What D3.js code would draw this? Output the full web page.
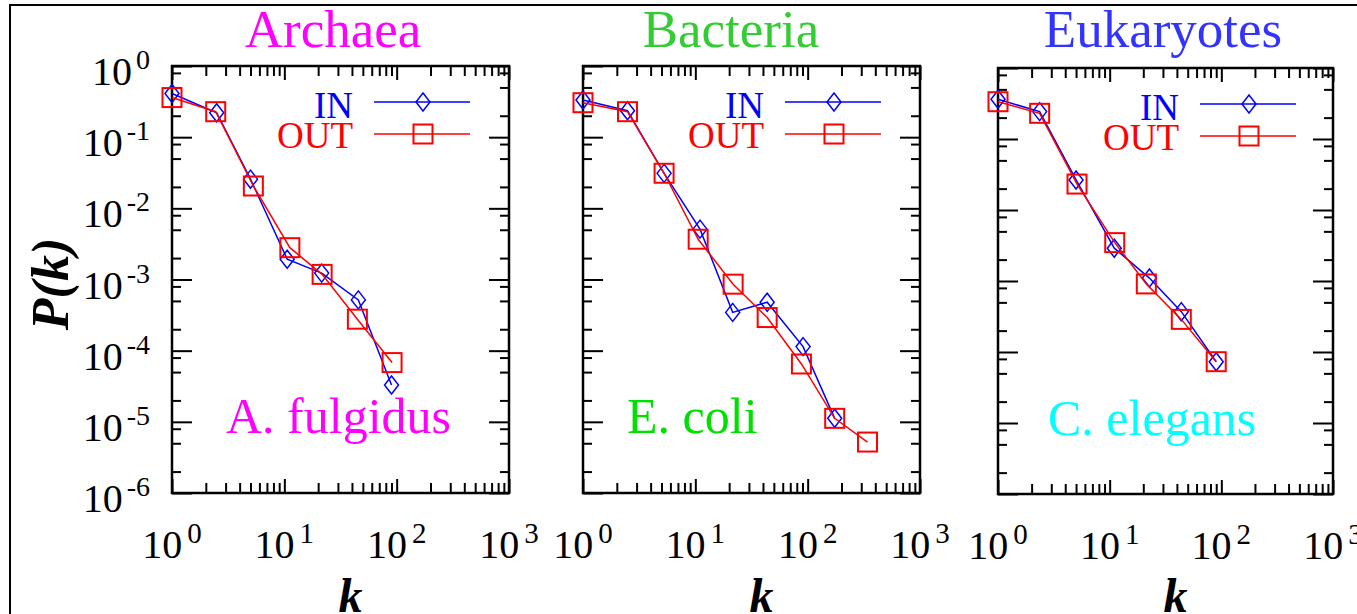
<!DOCTYPE html>
<html>
<head>
<meta charset="utf-8">
<script src="https://cdn.jsdelivr.net/npm/d3@7"></script>
<style>
  body { margin: 0; background: #fff; }
  svg { display: block; }
  text { font-family: "Liberation Serif", "Times New Roman", serif; }
</style>
</head>
<body>
<svg id="chart" width="1357" height="614"></svg>
<script>
"use strict";

// panel titles and organism names
const titles  = ['Archaea', 'Bacteria', 'Eukaryotes'];
const species = ['A. fulgidus', 'E. coli', 'C. elegans'];

// degree distributions, [k, P(k)]
const inArchaea   = [[1, 0.41], [2.5, 0.22], [5.0, 0.0257], [10.6, 0.00193], [21.5, 0.00123], [45.6, 0.000517], [90, 3.3e-5]];
const outArchaea  = [[1, 0.36], [2.45, 0.228], [5.3, 0.0206], [11.2, 0.0028], [21.7, 0.00118], [44.7, 0.000277], [91, 6.8e-5]];
const inBacteria  = [[1, 0.333], [2.49, 0.235], [5.27, 0.031], [11, 0.0051], [21.5, 0.000345], [43.6, 0.00048], [91, 0.000114], [174, 1.12e-5]];
const outBacteria = [[1, 0.305], [2.49, 0.228], [5.27, 0.0311], [10.6, 0.00368], [21.7, 0.00086], [43.6, 0.000292], [88, 6.5e-5], [174, 1.12e-5], [341, 5.2e-6]];
const inEuk       = [[1, 0.363], [2.36, 0.243], [5.0, 0.0265], [11, 0.0029], [22.7, 0.0011], [43.8, 0.00037], [90, 7.3e-5]];
const outEuk      = [[1, 0.335], [2.36, 0.23], [5.1, 0.0232], [11.1, 0.00347], [21.3, 0.00091], [43.8, 0.000288], [90, 7.3e-5]];

// tick labels (exponents of 10)
const xTickExp = [0, 1, 2, 3];
const yTickExp = [0, -1, -2, -3, -4, -5, -6];
const legendLabels = ['IN', 'OUT'];

// layout of the three panels
const boxes = [
  { left: 172, right: 509, top: 66, bottom: 493 },
  { left: 583, right: 920, top: 66, bottom: 493 },
  { left: 998, right: 1333, top: 68, bottom: 494 }
];
const titleX      = [333, 731, 1163];
const titleColor  = ['#ff00ff', '#33cc33', '#3333ff'];
const speciesDx   = [54, 44, 50];
const speciesColor = ['#ff00ff', '#00e000', '#00ffff'];
const inSeries  = [inArchaea, inBacteria, inEuk];
const outSeries = [outArchaea, outBacteria, outEuk];

const IN_COLOR = '#0000ff', OUT_COLOR = '#ff0000';

const svg = d3.select('#chart');

// outer frame
svg.append('rect')
    .attr('x', 10).attr('y', 5)
    .attr('width', 1400).attr('height', 700)
    .attr('fill', 'none').attr('stroke', '#000').attr('stroke-width', 2);

// tick positions
const xMajor = xTickExp.map(e => Math.pow(10, e));
const xMinor = [];
[0, 1, 2].forEach(e => { for (let m = 2; m <= 9; m++) xMinor.push(m * Math.pow(10, e)); });
const yMajor = yTickExp.map(e => Math.pow(10, e));
const yMinor = [];
[-6, -5, -4, -3, -2, -1].forEach(e => [2, 5, 8].forEach(m => yMinor.push(m * Math.pow(10, e))));

const diamond = (g, cx, cy) => g.append('path')
    .attr('d', `M${cx},${cy - 9}L${cx + 7},${cy}L${cx},${cy + 9}L${cx - 7},${cy}Z`)
    .attr('fill', 'none').attr('stroke', IN_COLOR).attr('stroke-width', 1.5);
const square = (g, cx, cy) => g.append('rect')
    .attr('x', cx - 9.5).attr('y', cy - 9.5).attr('width', 19).attr('height', 19)
    .attr('fill', 'none').attr('stroke', OUT_COLOR).attr('stroke-width', 2);

boxes.forEach((b, i) => {
  const x = d3.scaleLog().domain([1, 1000]).range([b.left, b.right]);
  const y = d3.scaleLog().domain([1e-6, 1]).range([b.bottom, b.top]);

  const g = svg.append('g');

  // axes, ticks pointing inward on all four sides
  const addAxis = (axis, tx, ty) => {
    const a = g.append('g')
        .attr('transform', `translate(${tx},${ty})`)
        .call(axis.tickFormat(''));
    a.select('.domain').remove();
    a.selectAll('line').attr('stroke', '#000').attr('stroke-width', 2);
  };
  addAxis(d3.axisLeft(y).tickValues(yMajor).tickSize(-20), b.left, 0);
  addAxis(d3.axisLeft(y).tickValues(yMinor).tickSize(-9), b.left, 0);
  addAxis(d3.axisRight(y).tickValues(yMajor).tickSize(-20), b.right, 0);
  addAxis(d3.axisRight(y).tickValues(yMinor).tickSize(-9), b.right, 0);
  addAxis(d3.axisBottom(x).tickValues(xMajor).tickSize(-14), 0, b.bottom);
  addAxis(d3.axisBottom(x).tickValues(xMinor).tickSize(-10), 0, b.bottom);
  addAxis(d3.axisTop(x).tickValues(xMajor).tickSize(-14), 0, b.top);
  addAxis(d3.axisTop(x).tickValues(xMinor).tickSize(-10), 0, b.top);

  g.append('rect')
      .attr('x', b.left).attr('y', b.top)
      .attr('width', b.right - b.left).attr('height', b.bottom - b.top)
      .attr('fill', 'none').attr('stroke', '#000').attr('stroke-width', 2.5);

  // x tick labels
  xTickExp.forEach(e => {
    const t = g.append('text')
        .attr('x', x(Math.pow(10, e))).attr('y', b.bottom + 65)
        .attr('text-anchor', 'middle').attr('font-size', 40);
    t.append('tspan').text('10');
    t.append('tspan').attr('dx', 5).attr('dy', -15).attr('font-size', 29).text(e);
  });

  // y tick labels, first panel only
  if (i === 0) {
    yTickExp.forEach(e => {
      const t = g.append('text')
          .attr('x', b.left - 22).attr('y', y(Math.pow(10, e)) + 19)
          .attr('text-anchor', 'end').attr('font-size', 40);
      t.append('tspan').text('10');
      t.append('tspan').attr('dx', 4).attr('dy', -16).attr('font-size', 28).text(e === 0 ? '0' : '-' + (-e));
    });
    svg.append('text')
        .attr('transform', `translate(68,284) rotate(-90)`)
        .attr('text-anchor', 'middle')
        .attr('font-size', 52).attr('font-weight', 'bold').attr('font-style', 'italic')
        .text('P(k)');
  }

  // x axis title
  svg.append('text')
      .attr('x', (b.left + b.right) / 2 + 10).attr('y', 612)
      .attr('text-anchor', 'middle')
      .attr('font-size', 48).attr('font-weight', 'bold').attr('font-style', 'italic')
      .text('k');

  // panel title and organism
  svg.append('text')
      .attr('x', titleX[i]).attr('y', 47)
      .attr('text-anchor', 'middle').attr('font-size', 53)
      .attr('fill', titleColor[i]).text(titles[i]);
  g.append('text')
      .attr('x', b.left + speciesDx[i]).attr('y', b.top + 367)
      .attr('font-size', 50).attr('fill', speciesColor[i]).text(species[i]);

  // data
  const line = d3.line().x(d => x(d[0])).y(d => y(d[1]));
  g.append('path').datum(inSeries[i])
      .attr('d', line).attr('fill', 'none')
      .attr('stroke', IN_COLOR).attr('stroke-width', 1.5);
  inSeries[i].forEach(d => diamond(g, x(d[0]), y(d[1])));
  g.append('path').datum(outSeries[i])
      .attr('d', line).attr('fill', 'none')
      .attr('stroke', OUT_COLOR).attr('stroke-width', 1.5);
  outSeries[i].forEach(d => square(g, x(d[0]), y(d[1])));

  // legend
  const lx = b.left, ly = b.top;
  [[IN_COLOR, 36, 52, diamond], [OUT_COLOR, 68, 82, square]].forEach((s, j) => {
    g.append('text')
        .attr('x', lx + 181).attr('y', ly + s[2])
        .attr('text-anchor', 'end').attr('font-size', 37)
        .attr('fill', s[0]).text(legendLabels[j]);
    g.append('line')
        .attr('x1', lx + 202).attr('x2', lx + 298)
        .attr('y1', ly + s[1]).attr('y2', ly + s[1])
        .attr('stroke', s[0]).attr('stroke-width', 1.5);
    s[3](g, lx + 251, ly + s[1]);
  });
});
</script>
</body>
</html>
